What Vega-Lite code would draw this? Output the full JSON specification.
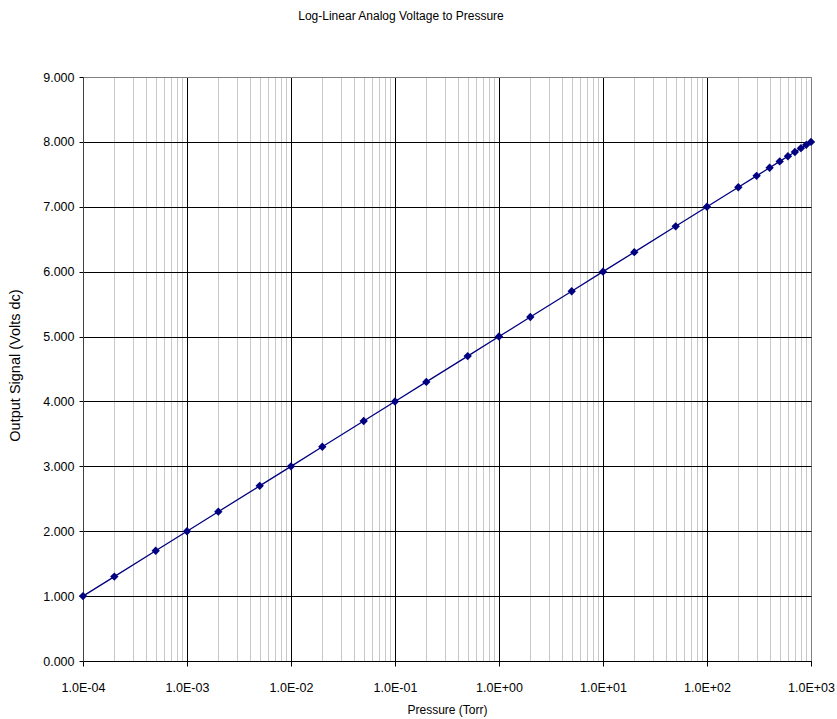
{
  "$schema": "https://vega.github.io/schema/vega-lite/v6.json",
  "autosize": "none",
  "width": 728,
  "height": 584,
  "padding": {"left": 83, "top": 77, "right": 26, "bottom": 58},
  "background": "white",
  "config": {
    "font": "Liberation Sans",
    "view": {"stroke": "#808080", "strokeWidth": 1},
    "axis": {"labelFont": "Liberation Sans", "titleFont": "Liberation Sans", "labelFontSize": 12.5, "titleFontSize": 12, "titleFontWeight": "normal", "labelColor": "#000", "titleColor": "#000"}
  },
  "title": {"text": "Log-Linear Analog Voltage to Pressure", "fontSize": 12, "fontWeight": "normal", "font": "Liberation Sans", "anchor": "middle", "frame": "group", "dx": -46, "offset": 48, "color": "#000"},
  "data": {"values": [
    {"pressure": 0.0001, "volts": 1.0},
    {"pressure": 0.0002, "volts": 1.301},
    {"pressure": 0.0005, "volts": 1.699},
    {"pressure": 0.001, "volts": 2.0},
    {"pressure": 0.002, "volts": 2.301},
    {"pressure": 0.005, "volts": 2.699},
    {"pressure": 0.01, "volts": 3.0},
    {"pressure": 0.02, "volts": 3.301},
    {"pressure": 0.05, "volts": 3.699},
    {"pressure": 0.1, "volts": 4.0},
    {"pressure": 0.2, "volts": 4.301},
    {"pressure": 0.5, "volts": 4.699},
    {"pressure": 1, "volts": 5.0},
    {"pressure": 2, "volts": 5.301},
    {"pressure": 5, "volts": 5.699},
    {"pressure": 10, "volts": 6.0},
    {"pressure": 20, "volts": 6.301},
    {"pressure": 50, "volts": 6.699},
    {"pressure": 100, "volts": 7.0},
    {"pressure": 200, "volts": 7.301},
    {"pressure": 300, "volts": 7.477},
    {"pressure": 400, "volts": 7.602},
    {"pressure": 500, "volts": 7.699},
    {"pressure": 600, "volts": 7.778},
    {"pressure": 700, "volts": 7.845},
    {"pressure": 800, "volts": 7.903},
    {"pressure": 900, "volts": 7.954},
    {"pressure": 1000, "volts": 8.0}
  ]},
  "encoding": {
    "x": {"field": "pressure", "type": "quantitative",
      "scale": {"type": "log", "domain": [0.0001, 1000], "nice": false},
      "axis": {
        "title": "Pressure (Torr)",
        "values": [0.0001,0.0002,0.0003,0.0004,0.0005,0.0006,0.0007,0.0008,0.0009,
                   0.001,0.002,0.003,0.004,0.005,0.006,0.007,0.008,0.009,
                   0.01,0.02,0.03,0.04,0.05,0.06,0.07,0.08,0.09,
                   0.1,0.2,0.3,0.4,0.5,0.6,0.7,0.8,0.9,
                   1,2,3,4,5,6,7,8,9,
                   10,20,30,40,50,60,70,80,90,
                   100,200,300,400,500,600,700,800,900,1000],
        "labelExpr": "abs(log(datum.value)/LN10 - round(log(datum.value)/LN10)) < 0.001 ? '1.0E' + (round(log(datum.value)/LN10) < 0 ? '-' : '+') + (abs(round(log(datum.value)/LN10)) < 10 ? '0' : '') + abs(round(log(datum.value)/LN10)) : ''",
        "labelOverlap": false,
        "labelFlush": false,
        "labelPadding": 15,
        "titlePadding": 11,
        "grid": true,
        "gridColor": {"condition": [
          {"test": "datum.value > 999", "value": "#808080"},
          {"test": "abs(log(datum.value)/LN10 - round(log(datum.value)/LN10)) < 0.001", "value": "#000000"}
        ], "value": "#c8c8c8"},
        "gridWidth": 1,
        "tickSize": 5,
        "tickColor": "#000",
        "tickOpacity": {"condition": {"test": "abs(log(datum.value)/LN10 - round(log(datum.value)/LN10)) < 0.001", "value": 1}, "value": 0},
        "domainColor": "#000"
      }
    },
    "y": {"field": "volts", "type": "quantitative",
      "scale": {"domain": [0, 9], "nice": false, "zero": false},
      "axis": {
        "title": "Output Signal (Volts dc)",
        "titleFontSize": 14.5,
        "values": [0,1,2,3,4,5,6,7,8,9],
        "format": ".3f",
        "labelPadding": 5,
        "titlePadding": 20,
        "titleY": 288,
        "grid": true,
        "gridColor": {"condition": {"test": "datum.value > 8.5", "value": "#808080"}, "value": "#000000"},
        "tickSize": 4,
        "tickColor": "#000",
        "domainColor": "#404040"
      }
    }
  },
  "layer": [
    {"mark": {"type": "line", "color": "#000080", "strokeWidth": 1.3}},
    {"mark": {"type": "point", "shape": "diamond", "filled": true, "color": "#000080", "opacity": 1, "size": 70}}
  ]
}
